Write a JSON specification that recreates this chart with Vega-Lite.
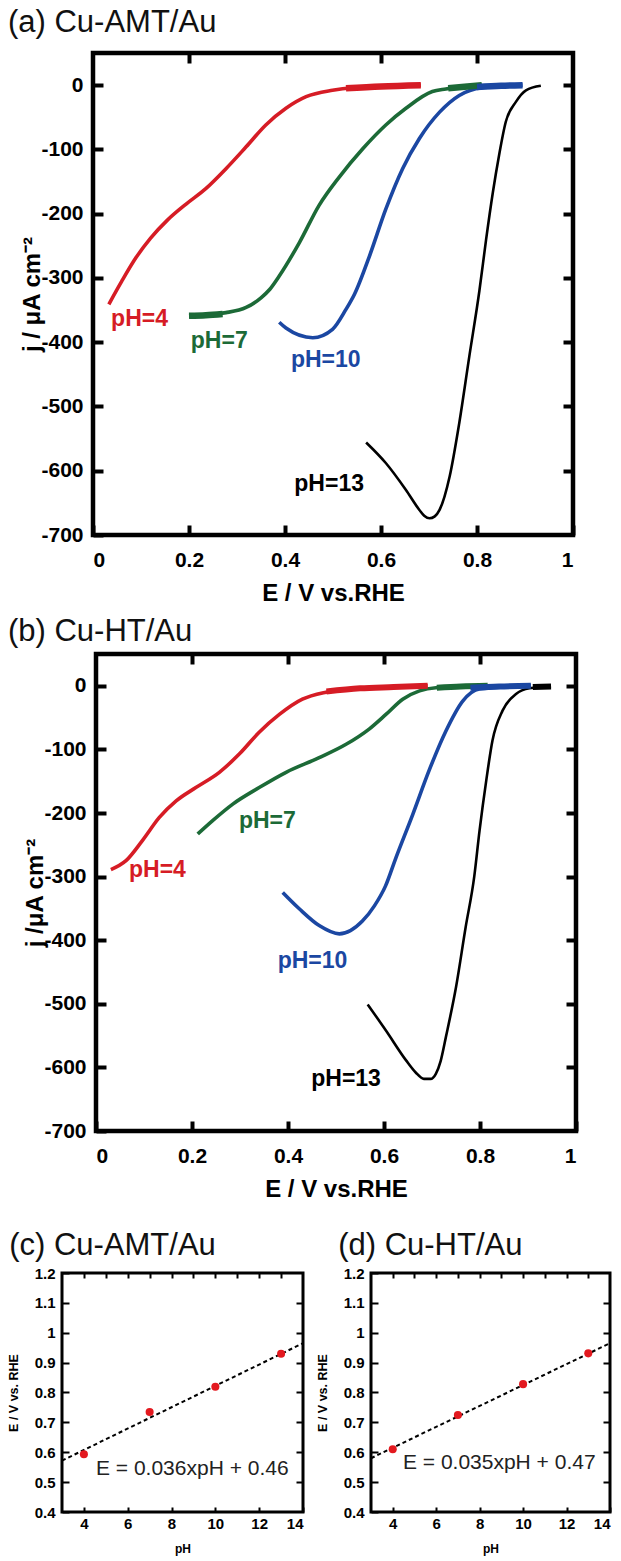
{
  "$schema": "https://vega.github.io/schema/vega-lite/v6.json",
  "padding": {"left": 4, "top": 4, "right": 0, "bottom": 0},
  "background": "white",
  "config": {
    "font": "Liberation Sans",
    "view": {"stroke": "black", "strokeWidth": 4.5},
    "axis": {"domain": false, "grid": false, "tickColor": "black", "tickWidth": 4, "tickSize": -10,
             "labelFont": "Liberation Sans", "labelFontWeight": "bold", "labelColor": "black",
             "titleFont": "Liberation Sans", "titleFontWeight": "bold", "titleColor": "black"},
    "title": {"anchor": "start", "frame": "bounds", "font": "Liberation Sans", "fontWeight": "normal", "fontSize": 31, "color": "#111", "offset": 10},
    "text": {"font": "Liberation Sans"}
  },
  "datasets": {
    "a": [
      {"pH": "pH=4", "E": 0.033, "j": -341}, {"pH": "pH=4", "E": 0.06, "j": -305}, {"pH": "pH=4", "E": 0.09, "j": -268},
      {"pH": "pH=4", "E": 0.12, "j": -238}, {"pH": "pH=4", "E": 0.155, "j": -210}, {"pH": "pH=4", "E": 0.194, "j": -185},
      {"pH": "pH=4", "E": 0.235, "j": -161}, {"pH": "pH=4", "E": 0.277, "j": -130}, {"pH": "pH=4", "E": 0.319, "j": -96},
      {"pH": "pH=4", "E": 0.36, "j": -62}, {"pH": "pH=4", "E": 0.402, "j": -36}, {"pH": "pH=4", "E": 0.444, "j": -18},
      {"pH": "pH=4", "E": 0.499, "j": -8}, {"pH": "pH=4", "E": 0.541, "j": -4}, {"pH": "pH=4", "E": 0.61, "j": -2},
      {"pH": "pH=4", "E": 0.683, "j": 0},
      {"pH": "pH=7", "E": 0.2, "j": -359}, {"pH": "pH=7", "E": 0.277, "j": -354}, {"pH": "pH=7", "E": 0.319, "j": -346},
      {"pH": "pH=7", "E": 0.35, "j": -331}, {"pH": "pH=7", "E": 0.368, "j": -318}, {"pH": "pH=7", "E": 0.388, "j": -297},
      {"pH": "pH=7", "E": 0.43, "j": -245}, {"pH": "pH=7", "E": 0.471, "j": -187}, {"pH": "pH=7", "E": 0.513, "j": -143},
      {"pH": "pH=7", "E": 0.562, "j": -99}, {"pH": "pH=7", "E": 0.61, "j": -62}, {"pH": "pH=7", "E": 0.652, "j": -36},
      {"pH": "pH=7", "E": 0.707, "j": -10}, {"pH": "pH=7", "E": 0.735, "j": -6}, {"pH": "pH=7", "E": 0.81, "j": 0},
      {"pH": "pH=10", "E": 0.388, "j": -369}, {"pH": "pH=10", "E": 0.402, "j": -378}, {"pH": "pH=10", "E": 0.458, "j": -393},
      {"pH": "pH=10", "E": 0.499, "j": -380}, {"pH": "pH=10", "E": 0.527, "j": -349}, {"pH": "pH=10", "E": 0.545, "j": -325},
      {"pH": "pH=10", "E": 0.576, "j": -266}, {"pH": "pH=10", "E": 0.61, "j": -193}, {"pH": "pH=10", "E": 0.645, "j": -130},
      {"pH": "pH=10", "E": 0.68, "j": -83}, {"pH": "pH=10", "E": 0.722, "j": -42}, {"pH": "pH=10", "E": 0.763, "j": -16},
      {"pH": "pH=10", "E": 0.81, "j": -4}, {"pH": "pH=10", "E": 0.895, "j": 0},
      {"pH": "pH=13", "E": 0.569, "j": -556}, {"pH": "pH=13", "E": 0.61, "j": -588}, {"pH": "pH=13", "E": 0.652, "j": -630},
      {"pH": "pH=13", "E": 0.68, "j": -661}, {"pH": "pH=13", "E": 0.69, "j": -670}, {"pH": "pH=13", "E": 0.701, "j": -674},
      {"pH": "pH=13", "E": 0.712, "j": -671}, {"pH": "pH=13", "E": 0.722, "j": -661},
      {"pH": "pH=13", "E": 0.743, "j": -609}, {"pH": "pH=13", "E": 0.763, "j": -526}, {"pH": "pH=13", "E": 0.784, "j": -422},
      {"pH": "pH=13", "E": 0.805, "j": -320}, {"pH": "pH=13", "E": 0.819, "j": -240}, {"pH": "pH=13", "E": 0.833, "j": -167},
      {"pH": "pH=13", "E": 0.846, "j": -109}, {"pH": "pH=13", "E": 0.86, "j": -57}, {"pH": "pH=13", "E": 0.881, "j": -26},
      {"pH": "pH=13", "E": 0.902, "j": -8}, {"pH": "pH=13", "E": 0.933, "j": -1}
    ],
    "aThick": [
      {"pH": "pH=4", "seg": "r", "E": 0.527, "j": -5}, {"pH": "pH=4", "seg": "r", "E": 0.6, "j": -2}, {"pH": "pH=4", "seg": "r", "E": 0.683, "j": 0},
      {"pH": "pH=7", "seg": "g1", "E": 0.2, "j": -359}, {"pH": "pH=7", "seg": "g1", "E": 0.235, "j": -358}, {"pH": "pH=7", "seg": "g1", "E": 0.27, "j": -356},
      {"pH": "pH=7", "seg": "g2", "E": 0.74, "j": -5}, {"pH": "pH=7", "seg": "g2", "E": 0.78, "j": -2}, {"pH": "pH=7", "seg": "g2", "E": 0.81, "j": 0},
      {"pH": "pH=10", "seg": "b", "E": 0.8, "j": -3}, {"pH": "pH=10", "seg": "b", "E": 0.85, "j": -1}, {"pH": "pH=10", "seg": "b", "E": 0.895, "j": 0}
    ],
    "aLab": [
      {"pH": "pH=4", "E": 0.097, "j": -364, "label": "pH=4"},
      {"pH": "pH=7", "E": 0.263, "j": -398, "label": "pH=7"},
      {"pH": "pH=10", "E": 0.485, "j": -427, "label": "pH=10"},
      {"pH": "pH=13", "E": 0.492, "j": -620, "label": "pH=13"}
    ],
    "b": [
      {"pH": "pH=4", "E": 0.031, "j": -289}, {"pH": "pH=4", "E": 0.0625, "j": -275}, {"pH": "pH=4", "E": 0.097, "j": -243},
      {"pH": "pH=4", "E": 0.132, "j": -207}, {"pH": "pH=4", "E": 0.167, "j": -181}, {"pH": "pH=4", "E": 0.208, "j": -160},
      {"pH": "pH=4", "E": 0.257, "j": -136}, {"pH": "pH=4", "E": 0.299, "j": -107}, {"pH": "pH=4", "E": 0.34, "j": -73},
      {"pH": "pH=4", "E": 0.382, "j": -45}, {"pH": "pH=4", "E": 0.43, "j": -21}, {"pH": "pH=4", "E": 0.479, "j": -10},
      {"pH": "pH=4", "E": 0.521, "j": -5}, {"pH": "pH=4", "E": 0.604, "j": -2}, {"pH": "pH=4", "E": 0.691, "j": 0},
      {"pH": "pH=7", "E": 0.212, "j": -233}, {"pH": "pH=7", "E": 0.243, "j": -212}, {"pH": "pH=7", "E": 0.285, "j": -186},
      {"pH": "pH=7", "E": 0.34, "j": -160}, {"pH": "pH=7", "E": 0.396, "j": -136}, {"pH": "pH=7", "E": 0.465, "j": -113},
      {"pH": "pH=7", "E": 0.521, "j": -92}, {"pH": "pH=7", "E": 0.569, "j": -68}, {"pH": "pH=7", "E": 0.604, "j": -45},
      {"pH": "pH=7", "E": 0.639, "j": -21}, {"pH": "pH=7", "E": 0.674, "j": -8}, {"pH": "pH=7", "E": 0.708, "j": -3},
      {"pH": "pH=7", "E": 0.816, "j": 0},
      {"pH": "pH=10", "E": 0.389, "j": -325}, {"pH": "pH=10", "E": 0.424, "j": -351}, {"pH": "pH=10", "E": 0.465, "j": -377},
      {"pH": "pH=10", "E": 0.507, "j": -390}, {"pH": "pH=10", "E": 0.53, "j": -385}, {"pH": "pH=10", "E": 0.555, "j": -370},
      {"pH": "pH=10", "E": 0.58, "j": -346}, {"pH": "pH=10", "E": 0.603, "j": -315}, {"pH": "pH=10", "E": 0.625, "j": -270},
      {"pH": "pH=10", "E": 0.66, "j": -202},
      {"pH": "pH=10", "E": 0.694, "j": -133}, {"pH": "pH=10", "E": 0.729, "j": -71}, {"pH": "pH=10", "E": 0.764, "j": -24},
      {"pH": "pH=10", "E": 0.799, "j": -5}, {"pH": "pH=10", "E": 0.906, "j": 0},
      {"pH": "pH=13", "E": 0.566, "j": -501}, {"pH": "pH=13", "E": 0.604, "j": -542}, {"pH": "pH=13", "E": 0.646, "j": -589},
      {"pH": "pH=13", "E": 0.666, "j": -608}, {"pH": "pH=13", "E": 0.683, "j": -618}, {"pH": "pH=13", "E": 0.697, "j": -618},
      {"pH": "pH=13", "E": 0.708, "j": -610}, {"pH": "pH=13", "E": 0.718, "j": -590}, {"pH": "pH=13", "E": 0.729, "j": -552},
      {"pH": "pH=13", "E": 0.75, "j": -474}, {"pH": "pH=13", "E": 0.77, "j": -380}, {"pH": "pH=13", "E": 0.788, "j": -300},
      {"pH": "pH=13", "E": 0.799, "j": -228}, {"pH": "pH=13", "E": 0.813, "j": -149}, {"pH": "pH=13", "E": 0.826, "j": -86},
      {"pH": "pH=13", "E": 0.847, "j": -39}, {"pH": "pH=13", "E": 0.875, "j": -13}, {"pH": "pH=13", "E": 0.903, "j": -4},
      {"pH": "pH=13", "E": 0.948, "j": -1}
    ],
    "bThick": [
      {"pH": "pH=4", "seg": "r", "E": 0.48, "j": -9}, {"pH": "pH=4", "seg": "r", "E": 0.55, "j": -4}, {"pH": "pH=4", "seg": "r", "E": 0.62, "j": -2}, {"pH": "pH=4", "seg": "r", "E": 0.691, "j": 0},
      {"pH": "pH=7", "seg": "g", "E": 0.71, "j": -3}, {"pH": "pH=7", "seg": "g", "E": 0.76, "j": -1}, {"pH": "pH=7", "seg": "g", "E": 0.816, "j": 0},
      {"pH": "pH=10", "seg": "b", "E": 0.78, "j": -3}, {"pH": "pH=10", "seg": "b", "E": 0.84, "j": -1}, {"pH": "pH=10", "seg": "b", "E": 0.906, "j": 0},
      {"pH": "pH=13", "seg": "k", "E": 0.91, "j": -2}, {"pH": "pH=13", "seg": "k", "E": 0.948, "j": -1}
    ],
    "bLab": [
      {"pH": "pH=4", "E": 0.128, "j": -290, "label": "pH=4"},
      {"pH": "pH=7", "E": 0.357, "j": -212, "label": "pH=7"},
      {"pH": "pH=10", "E": 0.451, "j": -432, "label": "pH=10"},
      {"pH": "pH=13", "E": 0.521, "j": -619, "label": "pH=13"}
    ],
    "cPts": [{"pH": 4, "E": 0.593}, {"pH": 7, "E": 0.735}, {"pH": 10, "E": 0.819}, {"pH": 13, "E": 0.93}],
    "cFit": [{"pH": 3, "E": 0.572}, {"pH": 14, "E": 0.965}],
    "cEq": [{"pH": 4.55, "E": 0.545, "label": "E = 0.036xpH + 0.46"}],
    "dPts": [{"pH": 4, "E": 0.61}, {"pH": 7, "E": 0.725}, {"pH": 10, "E": 0.828}, {"pH": 13, "E": 0.931}],
    "dFit": [{"pH": 3, "E": 0.58}, {"pH": 14, "E": 0.965}],
    "dEq": [{"pH": 4.47, "E": 0.565, "label": "E = 0.035xpH + 0.47"}]
  },
  "spacing": 5,
  "vconcat": [
    {
      "spacing": 0,
      "hconcat": [
        {"width": 1, "height": 1, "view": {"stroke": null}, "data": {"values": []}, "mark": {"type": "point", "opacity": 0}, "encoding": {}},
        {
          "title": {"text": "(a) Cu-AMT/Au", "dx": -13, "offset": 12},
          "width": 480, "height": 482,
          "resolve": {"axis": {"x": "independent", "y": "independent"}},
          "layer": [
            {
              "data": {"name": "a"},
              "transform": [{"filter": "datum.pH != 'pH=13'"}],
              "mark": {"type": "line", "interpolate": "monotone", "strokeWidth": 3.6},
              "encoding": {
                "x": {"field": "E", "type": "quantitative", "scale": {"domain": [0, 1], "nice": false},
                      "axis": {"orient": "bottom", "values": [0, 0.2, 0.4, 0.6, 0.8, 1], "labelExpr": "'' + datum.value", "labelFontSize": 21, "labelPadding": 24, "title": "E / V vs.RHE", "titleFontSize": 24, "titlePadding": 11}},
                "y": {"field": "j", "type": "quantitative", "scale": {"domain": [-700, 50], "nice": false},
                      "axis": {"orient": "left", "values": [0, -100, -200, -300, -400, -500, -600, -700], "labelExpr": "'' + datum.value", "labelFontSize": 21, "labelPadding": 20, "title": "j / μA cm⁻²", "titleFontSize": 24, "titlePadding": -4}},
                "color": {"field": "pH", "type": "nominal", "scale": {"domain": ["pH=4", "pH=7", "pH=10", "pH=13"], "range": ["#d61c25", "#1c6a37", "#1b47a2", "#000000"]}, "legend": null}
              }
            },
            {
              "data": {"name": "a"},
              "transform": [{"filter": "datum.pH == 'pH=13'"}],
              "mark": {"type": "line", "interpolate": "monotone", "strokeWidth": 2.6},
              "encoding": {
                "x": {"field": "E", "type": "quantitative", "axis": null},
                "y": {"field": "j", "type": "quantitative", "axis": null},
                "color": {"field": "pH", "type": "nominal", "legend": null}
              }
            },
            {
              "data": {"name": "aThick"},
              "mark": {"type": "line", "interpolate": "monotone", "strokeWidth": 6.5},
              "encoding": {
                "x": {"field": "E", "type": "quantitative", "axis": null},
                "y": {"field": "j", "type": "quantitative", "axis": null},
                "detail": {"field": "seg"},
                "color": {"field": "pH", "type": "nominal", "legend": null}
              }
            },
            {
              "data": {"name": "aLab"},
              "mark": {"type": "text", "fontWeight": "bold", "fontSize": 23, "align": "center", "baseline": "middle"},
              "encoding": {
                "x": {"field": "E", "type": "quantitative", "axis": {"orient": "top", "values": [0.2, 0.4, 0.6, 0.8], "labels": false, "title": null}},
                "y": {"field": "j", "type": "quantitative", "axis": {"orient": "right", "values": [0, -100, -200, -300, -400, -500, -600], "labels": false, "title": null}},
                "text": {"field": "label"},
                "color": {"field": "pH", "type": "nominal", "legend": null}
              }
            }
          ]
        }
      ]
    },
    {
      "spacing": 0,
      "hconcat": [
        {"width": 1, "height": 1, "view": {"stroke": null}, "data": {"values": []}, "mark": {"type": "point", "opacity": 0}, "encoding": {}},
        {
          "title": {"text": "(b) Cu-HT/Au", "dx": -16, "offset": 4},
          "width": 480, "height": 477,
          "resolve": {"axis": {"x": "independent", "y": "independent"}},
          "layer": [
            {
              "data": {"name": "b"},
              "transform": [{"filter": "datum.pH != 'pH=13'"}],
              "mark": {"type": "line", "interpolate": "monotone", "strokeWidth": 3.6},
              "encoding": {
                "x": {"field": "E", "type": "quantitative", "scale": {"domain": [0, 1], "nice": false},
                      "axis": {"orient": "bottom", "values": [0, 0.2, 0.4, 0.6, 0.8, 1], "labelExpr": "'' + datum.value", "labelFontSize": 21, "labelPadding": 24, "title": "E / V vs.RHE", "titleFontSize": 24, "titlePadding": 11}},
                "y": {"field": "j", "type": "quantitative", "scale": {"domain": [-700, 50], "nice": false},
                      "axis": {"orient": "left", "values": [0, -100, -200, -300, -400, -500, -600, -700], "labelExpr": "'' + datum.value", "labelFontSize": 21, "labelPadding": 20, "title": "j /μA cm⁻²", "titleFontSize": 24, "titlePadding": -4}},
                "color": {"field": "pH", "type": "nominal", "scale": {"domain": ["pH=4", "pH=7", "pH=10", "pH=13"], "range": ["#d61c25", "#1c6a37", "#1b47a2", "#000000"]}, "legend": null}
              }
            },
            {
              "data": {"name": "b"},
              "transform": [{"filter": "datum.pH == 'pH=13'"}],
              "mark": {"type": "line", "interpolate": "monotone", "strokeWidth": 2.6},
              "encoding": {
                "x": {"field": "E", "type": "quantitative", "axis": null},
                "y": {"field": "j", "type": "quantitative", "axis": null},
                "color": {"field": "pH", "type": "nominal", "legend": null}
              }
            },
            {
              "data": {"name": "bThick"},
              "mark": {"type": "line", "interpolate": "monotone", "strokeWidth": 6},
              "encoding": {
                "x": {"field": "E", "type": "quantitative", "axis": null},
                "y": {"field": "j", "type": "quantitative", "axis": null},
                "detail": {"field": "seg"},
                "color": {"field": "pH", "type": "nominal", "legend": null}
              }
            },
            {
              "data": {"name": "bLab"},
              "mark": {"type": "text", "fontWeight": "bold", "fontSize": 23, "align": "center", "baseline": "middle"},
              "encoding": {
                "x": {"field": "E", "type": "quantitative", "axis": {"orient": "top", "values": [0.2, 0.4, 0.6, 0.8], "labels": false, "title": null}},
                "y": {"field": "j", "type": "quantitative", "axis": {"orient": "right", "values": [0, -100, -200, -300, -400, -500, -600], "labels": false, "title": null}},
                "text": {"field": "label"},
                "color": {"field": "pH", "type": "nominal", "legend": null}
              }
            }
          ]
        }
      ]
    },
    {"width": 1, "height": 14, "view": {"stroke": null}, "data": {"values": []}, "mark": {"type": "point", "opacity": 0}, "encoding": {}},
    {
      "spacing": 0,
      "hconcat": [
        {"width": 1, "height": 1, "view": {"stroke": null}, "data": {"values": []}, "mark": {"type": "point", "opacity": 0}, "encoding": {}},
        {
          "spacing": 5,
          "hconcat": [
            {
              "title": {"text": "(c) Cu-AMT/Au", "dx": 2, "offset": 4},
              "width": 241, "height": 239,
              "view": {"stroke": "black", "strokeWidth": 3},
              "resolve": {"axis": {"x": "independent", "y": "independent"}},
              "layer": [
                {
                  "data": {"name": "cFit"},
                  "mark": {"type": "line", "color": "black", "strokeWidth": 2, "strokeDash": [4, 3]},
                  "encoding": {
                    "x": {"field": "pH", "type": "quantitative", "scale": {"domain": [3, 14], "nice": false},
                          "axis": {"orient": "bottom", "values": [4, 6, 8, 10, 12, 14], "labelExpr": "'' + datum.value", "labelFontSize": 15, "tickSize": -5, "tickWidth": 2, "labelPadding": 9, "title": "pH", "titleFontSize": 12, "titlePadding": 12}},
                    "y": {"field": "E", "type": "quantitative", "scale": {"domain": [0.4, 1.2], "nice": false},
                          "axis": {"orient": "left", "values": [0.4, 0.5, 0.6, 0.7, 0.8, 0.9, 1, 1.1, 1.2], "labelExpr": "'' + datum.value", "labelFontSize": 15, "tickSize": -7, "tickWidth": 2, "labelPadding": 14, "title": "E / V vs. RHE", "titleFontSize": 12.5, "titlePadding": 14}}
                  }
                },
                {
                  "data": {"name": "cPts"},
                  "mark": {"type": "circle", "color": "#e3191f", "opacity": 1, "size": 65},
                  "encoding": {
                    "x": {"field": "pH", "type": "quantitative", "axis": {"orient": "top", "values": [4, 5, 6, 7, 8, 9, 10, 11, 12, 13], "labels": false, "title": null, "tickSize": -5, "tickWidth": 2}},
                    "y": {"field": "E", "type": "quantitative", "axis": {"orient": "right", "values": [0.5, 0.6, 0.7, 0.8, 0.9, 1, 1.1], "labels": false, "title": null, "tickSize": -7, "tickWidth": 2}}
                  }
                },
                {
                  "data": {"name": "cEq"},
                  "mark": {"type": "text", "fontSize": 21, "align": "left", "baseline": "middle", "color": "#222"},
                  "encoding": {
                    "x": {"field": "pH", "type": "quantitative", "axis": null},
                    "y": {"field": "E", "type": "quantitative", "axis": null},
                    "text": {"field": "label"}
                  }
                }
              ]
            },
            {
              "title": {"text": "(d) Cu-HT/Au", "dx": 22, "offset": 4},
              "width": 239, "height": 239,
              "view": {"stroke": "black", "strokeWidth": 3},
              "resolve": {"axis": {"x": "independent", "y": "independent"}},
              "layer": [
                {
                  "data": {"name": "dFit"},
                  "mark": {"type": "line", "color": "black", "strokeWidth": 2, "strokeDash": [4, 3]},
                  "encoding": {
                    "x": {"field": "pH", "type": "quantitative", "scale": {"domain": [3, 14], "nice": false},
                          "axis": {"orient": "bottom", "values": [4, 6, 8, 10, 12, 14], "labelExpr": "'' + datum.value", "labelFontSize": 15, "tickSize": -5, "tickWidth": 2, "labelPadding": 9, "title": "pH", "titleFontSize": 12, "titlePadding": 12}},
                    "y": {"field": "E", "type": "quantitative", "scale": {"domain": [0.4, 1.2], "nice": false},
                          "axis": {"orient": "left", "values": [0.4, 0.5, 0.6, 0.7, 0.8, 0.9, 1, 1.1, 1.2], "labelExpr": "'' + datum.value", "labelFontSize": 15, "tickSize": -7, "tickWidth": 2, "labelPadding": 14, "title": "E / V vs. RHE", "titleFontSize": 12.5, "titlePadding": 14}}
                  }
                },
                {
                  "data": {"name": "dPts"},
                  "mark": {"type": "circle", "color": "#e3191f", "opacity": 1, "size": 65},
                  "encoding": {
                    "x": {"field": "pH", "type": "quantitative", "axis": {"orient": "top", "values": [4, 5, 6, 7, 8, 9, 10, 11, 12, 13], "labels": false, "title": null, "tickSize": -5, "tickWidth": 2}},
                    "y": {"field": "E", "type": "quantitative", "axis": {"orient": "right", "values": [0.5, 0.6, 0.7, 0.8, 0.9, 1, 1.1], "labels": false, "title": null, "tickSize": -7, "tickWidth": 2}}
                  }
                },
                {
                  "data": {"name": "dEq"},
                  "mark": {"type": "text", "fontSize": 21, "align": "left", "baseline": "middle", "color": "#222"},
                  "encoding": {
                    "x": {"field": "pH", "type": "quantitative", "axis": null},
                    "y": {"field": "E", "type": "quantitative", "axis": null},
                    "text": {"field": "label"}
                  }
                }
              ]
            }
          ]
        }
      ]
    }
  ]
}
